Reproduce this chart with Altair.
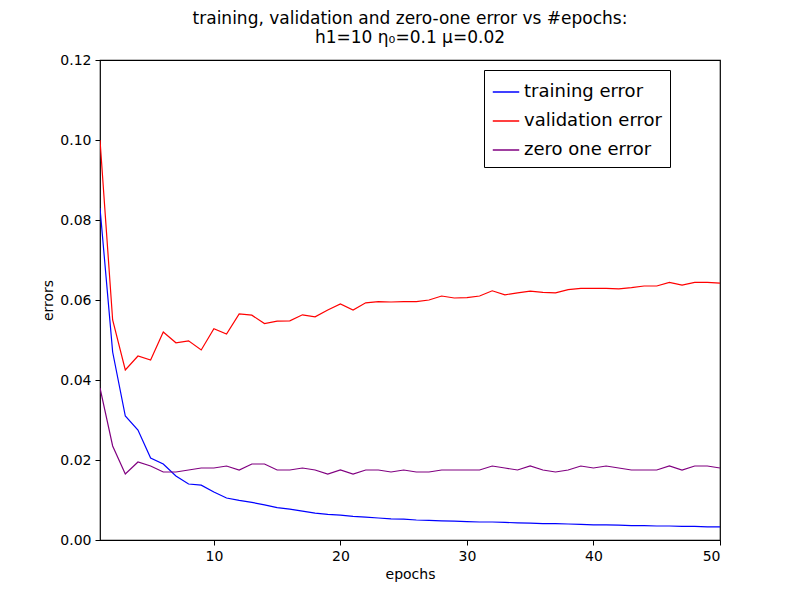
import pandas as pd
import altair as alt

epochs = list(range(1, 51))

training = [0.083, 0.047, 0.031, 0.0275, 0.0205, 0.019, 0.016, 0.014, 0.0137, 0.012,
            0.0105, 0.0099, 0.0094, 0.0088, 0.0081, 0.0077, 0.0072, 0.0067, 0.0064, 0.0062,
            0.0059, 0.0057, 0.0055, 0.0053, 0.0052, 0.005, 0.0049, 0.0048, 0.0047, 0.0046,
            0.0045, 0.0045, 0.0044, 0.0043, 0.0042, 0.0041, 0.0041, 0.004, 0.0039, 0.0038,
            0.0038, 0.0037, 0.0036, 0.0036, 0.0035, 0.0035, 0.0034, 0.0034, 0.0033, 0.0033]

validation = [0.1, 0.055, 0.0425, 0.046, 0.045, 0.052, 0.0493, 0.0498, 0.0475, 0.0528,
              0.0515, 0.0565, 0.0562, 0.0541, 0.0547, 0.0548, 0.0563, 0.0558, 0.0575, 0.059,
              0.0575, 0.0593, 0.0596, 0.0595, 0.0596, 0.0596, 0.06, 0.061, 0.0605, 0.0606,
              0.061, 0.0623, 0.0613, 0.0618, 0.0622, 0.0619, 0.0618, 0.0626, 0.0629, 0.0629,
              0.0629, 0.0628, 0.0631, 0.0635, 0.0635, 0.0644, 0.0637, 0.0644, 0.0644, 0.0642]

zero_one = [0.038, 0.0235, 0.0165, 0.0195, 0.0185, 0.017, 0.017, 0.0175, 0.018, 0.018,
            0.0185, 0.0175, 0.019, 0.019, 0.0175, 0.0175, 0.018, 0.0175, 0.0165, 0.0175,
            0.0165, 0.0175, 0.0175, 0.017, 0.0175, 0.017, 0.017, 0.0175, 0.0175, 0.0175,
            0.0175, 0.0185, 0.018, 0.0175, 0.0185, 0.0175, 0.017, 0.0175, 0.0185, 0.018,
            0.0185, 0.018, 0.0175, 0.0175, 0.0175, 0.0185, 0.0175, 0.0185, 0.0185, 0.018]

series_names = ["training error", "validation error", "zero one error"]
series_colors = ["#0000ff", "#ff0000", "#800080"]

rows = []
for name, vals in zip(series_names, [training, validation, zero_one]):
    for e, v in zip(epochs, vals):
        rows.append({"epoch": e, "error": v, "series": name})
df = pd.DataFrame(rows)

chart = alt.Chart(df).mark_line(strokeWidth=1.2, clip=True).encode(
    alt.X("epoch:Q", title="epochs", scale=alt.Scale(domain=[1, 50], nice=False, zero=False),
          axis=alt.Axis(values=[10, 20, 30, 40, 50], grid=False, labelFontSize=14,
                        titleFontSize=14, titleFontWeight="normal", labelColor="black",
                        titleColor="black", tickColor="black", domain=False, labelPadding=4)),
    alt.Y("error:Q", title="errors", scale=alt.Scale(domain=[0, 0.12], nice=False),
          axis=alt.Axis(values=[0, 0.02, 0.04, 0.06, 0.08, 0.1, 0.12], format=".2f", grid=False,
                        labelFontSize=14, titleFontSize=14, titleFontWeight="normal",
                        labelColor="black", titleColor="black", tickColor="black",
                        domain=False, labelPadding=4)),
    alt.Color("series:N", scale=alt.Scale(domain=series_names, range=series_colors),
              legend=alt.Legend(title=None, orient="none", legendX=384, legendY=10,
                                symbolType="stroke", symbolSize=700, symbolStrokeWidth=1.5,
                                labelFontSize=18, labelColor="black", strokeColor="black",
                                padding=8, rowPadding=6, fillColor="white", labelLimit=300))
).properties(
    width=620, height=480,
    title=alt.TitleParams(["training, validation and zero-one error vs #epochs:",
                           "h1=10 η₀=0.1 μ=0.02"], fontSize=17, fontWeight="normal",
                          color="black", anchor="middle", offset=6),
    autosize=alt.AutoSizeParams(type="none"),
    padding={"left": 92, "top": 52, "right": 64, "bottom": 50}
).configure(font="DejaVu Sans").configure_view(stroke="black", strokeWidth=1.2)

chart.save("out.html", embed_options={"renderer": "svg", "actions": False})
